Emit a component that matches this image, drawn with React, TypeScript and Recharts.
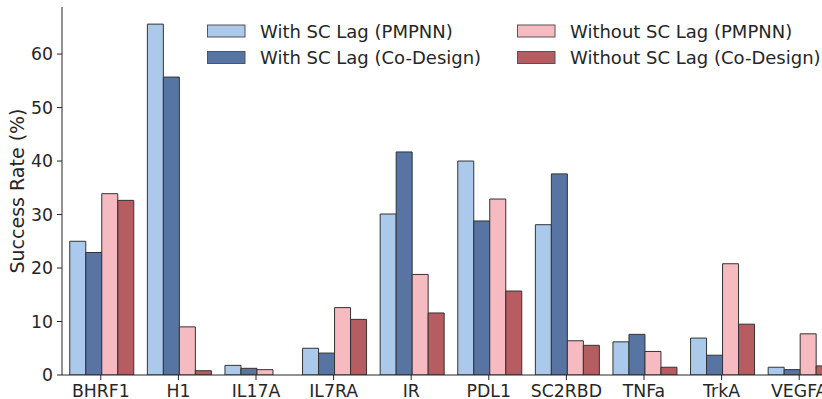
import React from 'react';
import { BarChart, Bar, XAxis, YAxis, Customized } from 'recharts';

const categories = ['BHRF1', 'H1', 'IL17A', 'IL7RA', 'IR', 'PDL1', 'SC2RBD', 'TNFa', 'TrkA', 'VEGFA'];
const withPmpnn = [25.0, 65.6, 1.8, 5.0, 30.1, 40.0, 28.1, 6.2, 6.9, 1.45];
const withCodesign = [22.9, 55.7, 1.25, 4.1, 41.7, 28.8, 37.6, 7.6, 3.7, 1.0];
const withoutPmpnn = [33.9, 9.0, 1.0, 12.6, 18.8, 32.9, 6.4, 4.4, 20.8, 7.7];
const withoutCodesign = [32.65, 0.8, 0.0, 10.4, 11.6, 15.7, 5.55, 1.45, 9.5, 1.7];
const yTicks = [0, 10, 20, 30, 40, 50, 60];

const seriesNames = [
  'With SC Lag (PMPNN)',
  'With SC Lag (Co-Design)',
  'Without SC Lag (PMPNN)',
  'Without SC Lag (Co-Design)',
];
const colors = ['#abc9eb', '#5874a3', '#f6bbc0', '#b55d60'];

const data = categories.map((c, i) => ({
  name: c,
  s0: withPmpnn[i],
  s1: withCodesign[i],
  s2: withoutPmpnn[i],
  s3: withoutCodesign[i],
}));

const FONT = '"DejaVu Sans", sans-serif';
const TEXT = '#262626';

const LegendBox = () => {
  const cols = [
    { px: 207.5, tx: 260 },
    { px: 517.5, tx: 570 },
  ];
  const rows = [31, 57.5];
  const items = [
    { i: 0, c: 0, r: 0 },
    { i: 1, c: 0, r: 1 },
    { i: 2, c: 1, r: 0 },
    { i: 3, c: 1, r: 1 },
  ];
  return (
    <g>
      {items.map(({ i, c, r }) => (
        <g key={i}>
          <rect x={cols[c].px} y={rows[r] - 6} width={37.5} height={12} fill={colors[i]} stroke="#555" strokeWidth={1} />
          <text x={cols[c].tx} y={rows[r]} dominantBaseline="central" fontFamily={FONT} fontSize={18} fill={TEXT}>
            {seriesNames[i]}
          </text>
        </g>
      ))}
    </g>
  );
};

const YLabel = (props: any) => {
  const vb = props.viewBox || { y: 7, height: 368 };
  const cy = vb.y + vb.height / 2;
  return (
    <text
      x={17}
      y={cy}
      transform={`rotate(-90, 17, ${cy})`}
      textAnchor="middle"
      dominantBaseline="central"
      fontFamily={FONT}
      fontSize={19}
      fill={TEXT}
    >
      Success Rate (%)
    </text>
  );
};

export default function App() {
  return (
    <div style={{ position: 'fixed', left: 0, top: 0, width: 822, height: 399, overflow: 'hidden', background: '#fff' }}>
      <BarChart
        width={850}
        height={399}
        data={data}
        margin={{ top: 7, right: 12, bottom: 0, left: 0 }}
        barCategoryGap="10%"
        barGap={0}
      >
        <XAxis
          dataKey="name"
          height={24}
          tickSize={5}
          tickMargin={5}
          axisLine={{ stroke: '#262626', strokeWidth: 1 }}
          tickLine={{ stroke: '#262626', strokeWidth: 1 }}
          tick={{ fontFamily: FONT, fontSize: 17.3, fill: TEXT }}
          interval={0}
        />
        <YAxis
          width={62}
          domain={[0, 68.8]}
          ticks={yTicks}
          tickSize={5}
          tickMargin={4}
          axisLine={{ stroke: '#262626', strokeWidth: 1 }}
          tickLine={{ stroke: '#262626', strokeWidth: 1 }}
          tick={{ fontFamily: FONT, fontSize: 17.3, fill: TEXT }}
          allowDataOverflow
          label={<YLabel />}
        />
        <Bar dataKey="s0" name={seriesNames[0]} fill={colors[0]} stroke="#333" strokeWidth={1} isAnimationActive={false} />
        <Bar dataKey="s1" name={seriesNames[1]} fill={colors[1]} stroke="#333" strokeWidth={1} isAnimationActive={false} />
        <Bar dataKey="s2" name={seriesNames[2]} fill={colors[2]} stroke="#333" strokeWidth={1} isAnimationActive={false} />
        <Bar dataKey="s3" name={seriesNames[3]} fill={colors[3]} stroke="#333" strokeWidth={1} isAnimationActive={false} />
        <Customized component={<LegendBox />} />
      </BarChart>
    </div>
  );
}
